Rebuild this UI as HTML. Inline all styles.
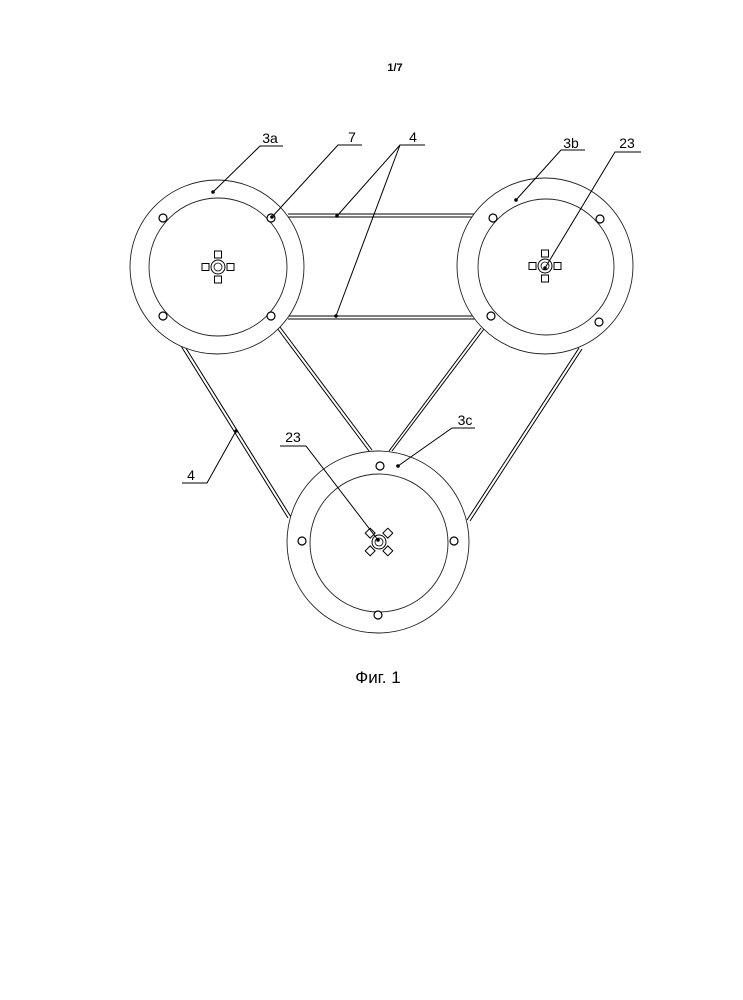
<!DOCTYPE html>
<html><head><style>
html,body{margin:0;padding:0;background:#fff;}
svg{display:block;}
text{font-family:"Liberation Sans",sans-serif;fill:#000;}
</style></head><body>
<svg width="743" height="1000" viewBox="0 0 743 1000" xmlns="http://www.w3.org/2000/svg">
<defs>
<g id="hub">
  <circle r="7" fill="none" stroke="#000" stroke-width="1"/>
  <circle r="4" fill="none" stroke="#000" stroke-width="0.8"/>
  <rect x="-3.5" y="-16" width="7" height="7" fill="#fff" stroke="#000" stroke-width="1"/>
  <rect x="-3.5" y="9" width="7" height="7" fill="#fff" stroke="#000" stroke-width="1"/>
  <rect x="-16" y="-3.5" width="7" height="7" fill="#fff" stroke="#000" stroke-width="1"/>
  <rect x="9" y="-3.5" width="7" height="7" fill="#fff" stroke="#000" stroke-width="1"/>
</g>
</defs>
<text x="395" y="71" font-size="11" font-weight="bold" text-anchor="middle">1/7</text>

<g stroke="#000" stroke-width="1" fill="none">
  <line x1="288" y1="214" x2="476" y2="214"/><line x1="288" y1="217" x2="476" y2="217"/>
  <line x1="288" y1="316" x2="476" y2="316"/><line x1="288" y1="319" x2="476" y2="319"/>
  <line x1="181" y1="346" x2="288" y2="518"/><line x1="184" y1="345" x2="291" y2="517"/>
  <line x1="277" y1="328" x2="369" y2="451"/><line x1="280" y1="327" x2="372" y2="450"/>
  <line x1="481" y1="328" x2="389" y2="451"/><line x1="484" y1="329" x2="392" y2="451"/>
  <line x1="579" y1="348" x2="467" y2="520"/><line x1="582" y1="349" x2="470" y2="521"/>
</g>

<g stroke="#222" stroke-width="0.9" fill="#fff">
  <circle cx="217" cy="267" r="87"/>
  <circle cx="545" cy="266" r="88"/>
  <circle cx="378" cy="542" r="91"/>
</g>
<g stroke="#222" stroke-width="0.9" fill="none">
  <circle cx="218" cy="267" r="69"/>
  <circle cx="546" cy="267" r="68"/>
  <circle cx="379" cy="543" r="69"/>
</g>
<g stroke="#000" stroke-width="1.2" fill="#fff">
  <circle cx="163" cy="218" r="4"/><circle cx="271" cy="218" r="4"/>
  <circle cx="163" cy="316" r="4"/><circle cx="271" cy="316" r="4"/>
  <circle cx="493" cy="218" r="4"/><circle cx="600" cy="219" r="4"/>
  <circle cx="491" cy="316" r="4"/><circle cx="599" cy="322" r="4"/>
  <circle cx="380" cy="466" r="4"/><circle cx="302" cy="541" r="4"/>
  <circle cx="454" cy="541" r="4"/><circle cx="378" cy="615" r="4"/>
</g>
<use href="#hub" x="218" y="267"/>
<use href="#hub" x="545" y="266"/>
<use href="#hub" transform="translate(379,542) rotate(45)"/>

<g stroke="#000" stroke-width="1" fill="none">
  <polyline points="213,192 260,146 283,146"/>
  <polyline points="272,217 338,145 362,145"/>
  <polyline points="337,216 400,145 425,145"/>
  <polyline points="336,316 400,145"/>
  <polyline points="516,200 561,150 585,150"/>
  <polyline points="545,268 615,152 641,152"/>
  <polyline points="398,466 452,428 475,428"/>
  <polyline points="378,540 306,446 280,446"/>
  <polyline points="236,431 207,483 182,483"/>
</g>
<g fill="#000">
  <circle cx="213" cy="192" r="1.8"/><circle cx="272" cy="217" r="1.8"/>
  <circle cx="337" cy="216" r="1.8"/><circle cx="336" cy="316" r="1.8"/>
  <circle cx="516" cy="200" r="1.8"/><circle cx="545" cy="268" r="1.8"/>
  <circle cx="398" cy="466" r="1.8"/><circle cx="378" cy="540" r="1.8"/>
  <circle cx="236" cy="431" r="1.8"/>
</g>
<g font-size="14">
  <text x="270" y="143" text-anchor="middle">3a</text>
  <text x="352" y="142" text-anchor="middle">7</text>
  <text x="413" y="142" text-anchor="middle">4</text>
  <text x="571" y="148" text-anchor="middle">3b</text>
  <text x="627" y="148" text-anchor="middle">23</text>
  <text x="465" y="425" text-anchor="middle">3c</text>
  <text x="293" y="442" text-anchor="middle">23</text>
  <text x="191" y="480" text-anchor="middle">4</text>
</g>
<text x="378" y="683" font-size="17" text-anchor="middle">Фиг. 1</text>
</svg>
</body></html>
